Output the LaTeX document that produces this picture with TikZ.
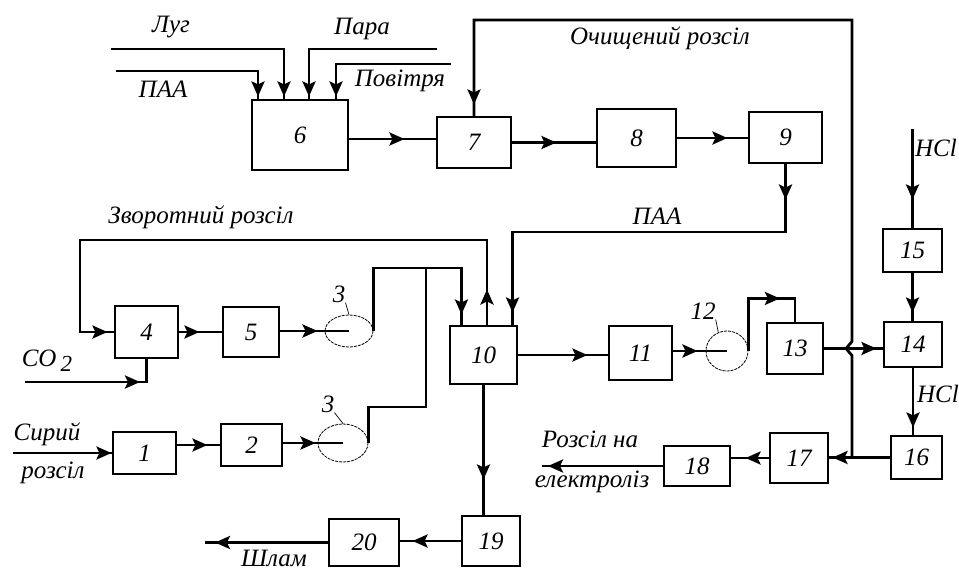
\documentclass[tikz,border=0pt]{standalone}
\usepackage{fontspec}
\setmainfont{Liberation Serif}
\usetikzlibrary{arrows.meta, positioning, shapes.geometric, decorations.markings}

\begin{document}
\begin{tikzpicture}[x=1pt, y=-1pt,
  every node/.style={font=\itshape\fontsize{25}{28}\selectfont, inner sep=0pt},
  >={Stealth[length=15pt, width=13pt, inset=3pt]},
  unit/.style 2 args={draw, line width=1.1pt, minimum width=#1,
                      minimum height=#2},
  pump/.style 2 args={draw, ellipse, line width=0.8pt,
                      dash pattern=on 3pt off 1pt,
                      minimum width=#1, minimum height=#2},
  pipe/.style={line width=2.8pt},
  flow/.style={pipe, postaction={decorate},
               decoration={markings, mark=at position #1 with {\arrow{>}}}},
  flowtwo/.style 2 args={pipe, postaction={decorate},
               decoration={markings,
                           mark=at position #1 with {\arrow{>}},
                           mark=at position #2 with {\arrow{>}}}},
  leader/.style={line width=0.7pt},
]
\useasboundingbox (0,0) rectangle (959,571);

% --- Apparatus boxes ------------------------------------------------
\node[unit={63pt}{42pt}] (u1)  at (144.5,453)   {1};
\node[unit={61pt}{42pt}] (u2)  at (251.5,445)   {2};
\node[unit={63pt}{52pt}] (u4)  at (146.5,332)   {4};
\node[unit={56pt}{50pt}] (u5)  at (251,332)     {5};
\node[unit={96pt}{70pt}] (u6)  at (300,135)     {6};
\node[unit={74pt}{51pt}] (u7)  at (474,142.5)   {7};
\node[unit={79pt}{58pt}] (u8)  at (636.5,138)   {8};
\node[unit={73pt}{51pt}] (u9)  at (785.5,137.5) {9};
\node[unit={67pt}{58pt}] (u10) at (483.5,355)   {10};
\node[unit={63pt}{54pt}] (u11) at (640.5,353)   {11};
\node[unit={56pt}{51pt}] (u13) at (795,348.5)   {13};
\node[unit={58pt}{45pt}] (u14) at (913,344.5)   {14};
\node[unit={59pt}{43pt}] (u15) at (912.5,250.5) {15};
\node[unit={51pt}{43pt}] (u16) at (916.5,457.5) {16};
\node[unit={58pt}{50pt}] (u17) at (799,458)     {17};
\node[unit={66pt}{40pt}] (u18) at (697,466)     {18};
\node[unit={58pt}{50pt}] (u19) at (491,541)     {19};
\node[unit={70pt}{47pt}] (u20) at (364,542.5)   {20};

% --- Pumps with their numbers ---------------------------------------
\node[pump={48pt}{32pt}] (p3a) at (349,331) {};
\node[pump={50pt}{38pt}] (p3b) at (343,443) {};
\node[pump={42pt}{40pt}] (p12) at (727,351) {};
\node (n3a) at (339,294) {3};
\node (n3b) at (328,404) {3};
\node (n12) at (703,311) {12};
\draw[leader] (n3a.south east) -- (p3a.north);
\draw[leader] (n3b.south east) -- (p3b.north);
\draw[leader] (n12.south east) -- (p12.115);

% --- Stream names ---------------------------------------------------
\node (tlug)  at (171,27)  {Луг};
\node (tpara) at (362,29)  {Пара};
\node (tpaa)  at (163,89)  {ПАА};
\node (tair)  at (400,81)  {Повітря};
\node (tpure) at (660,38)  {Очищений розсіл};
\node (tback) at (201,217) {Зворотний розсіл};
\node (tpaa2) at (657,216) {ПАА};
\node (thcl)  at (936,148) {HCl};
\node (thcl2) at (938,394) {HCl};
\node (tco2)  at (47,361)  {CO\,\raisebox{-5pt}{\fontsize{23}{26}\selectfont 2}};
\node (traw1) at (47,434)  {Сирий};
\node (traw2) at (53,473)  {розсіл};
\node (tslim) at (274,558.5) {Шлам};
\node (tel1)  at (590,439) {Розсіл на};
\node (tel2)  at (592,482) {електроліз};

% free ends and bends
\coordinate (raw)   at (13,453);
\coordinate (co2)   at (25,382);
\coordinate (lug)   at (111,49);
\coordinate (paa)   at (116,71);
\coordinate (para)  at (437,49);
\coordinate (air)   at (451,64);
\coordinate (hcl)   at ([yshift=99pt]u15.north);
\coordinate (slime) at (205,542.5);
\coordinate (elec)  at (542,466);
\coordinate (back)  at (80,240);
\coordinate (top)   at (852,20);
\coordinate (j17)   at (852,457.5);
\coordinate (hop)   at (j17 |- u13.east);
\coordinate (jn)    at (426,268);
\coordinate (k3)    at (426,407);
\coordinate (k9)    at (785.5,232);
\coordinate (k12)   at ([yshift=24pt]u13.north);

% --- Feed to 6 ------------------------------------------------------
\draw[flow=-3pt] (paa)  -| ([xshift=-42pt]u6.north);
\draw[flow=-3pt] (lug)  -| ([xshift=-16pt]u6.north);
\draw[flow=-3pt] (para) -| ([xshift=9pt]u6.north);
\draw[flow=-3pt] (air)  -| ([xshift=36pt]u6.north);

% --- Upper line 6-7-8-9 and back to 10 ------------------------------
\draw[flow=-32pt] ([yshift=-4pt]u6.east) -- ([yshift=-4pt]u6.east -| u7.west);
\draw[flow=-40pt] (u7.east) -- (u7.east -| u8.west);
\draw[flow=-21pt] (u8.east) -- (u8.east -| u9.west);
\draw[flowtwo={36pt}{-13pt}] (u9.south) -- (k9) -| ([xshift=-5pt]u10.north east);

% --- Raw brine, carbonation, pumps 3 --------------------------------
\draw[flow=-1pt] (raw) -- (u1.west);
\draw[flow=-13pt] (u2.west -| u1.east) -- (u2.west);
\draw[flow=33pt] (u2.east |- p3b.center) -- (p3b.center);
\draw[flow=115pt] (co2) -| (u4.south);
\draw[flowtwo={36pt}{-7pt}] ([xshift=3.5pt]u10.north) |- (back) |- (u4.west);
\draw[flow=-23pt] (u4.east) -- (u5.west);
\draw[flow=38pt] (u5.east |- p3a.center) -- (p3a.center);
\draw[flow=-11pt] (p3a.east) |- (jn) -| ([xshift=12pt]u10.north west);
\draw[pipe] (p3b.east) |- (k3) -- (jn);

% --- Lower line 10-11-12-13-14 --------------------------------------
\draw[flow=-21pt] (u10.east) -- (u10.east -| u11.west);
\draw[flow=25pt] (u11.east |- p12.center) -- (p12.center);
\draw[flow=84pt] (p12.east) |- (k12) -- (u13.north);
\draw[flow=-7pt] (u13.east) -- (u13.east -| u14.west);
\draw[flow=-29pt] (hcl) -- (u15.north);
\draw[flow=-9pt] (u15.south) -- (u15.south |- u14.north);
\draw[flow=-8pt] (u14.south) -- (u14.south |- u16.north);

% --- Purified brine return, hopping over 13-14 ----------------------
\draw[flow=-12pt] (j17) -- ([yshift=-7pt]hop) -- ([xshift=-6pt]hop)
  -- ([yshift=7pt]hop) -- (top) -| (u7.north);

% --- Outlets ----------------------------------------------------------
\draw[flow=-4pt] (u16.west) -- (u16.west -| u17.east);
\draw[flow=-15pt] (u17.west) -- (u17.west -| u18.east);
\draw[flow=-6pt] (u18.west) -- (elec);
\draw[flow=-36pt] (u10.south) -- (u10.south |- u19.north);
\draw[flow=-13pt] (u19.west) -- (u19.west -| u20.east);
\draw[flow=-10pt] (u20.west) -- (slime);
\end{tikzpicture}
\end{document}
